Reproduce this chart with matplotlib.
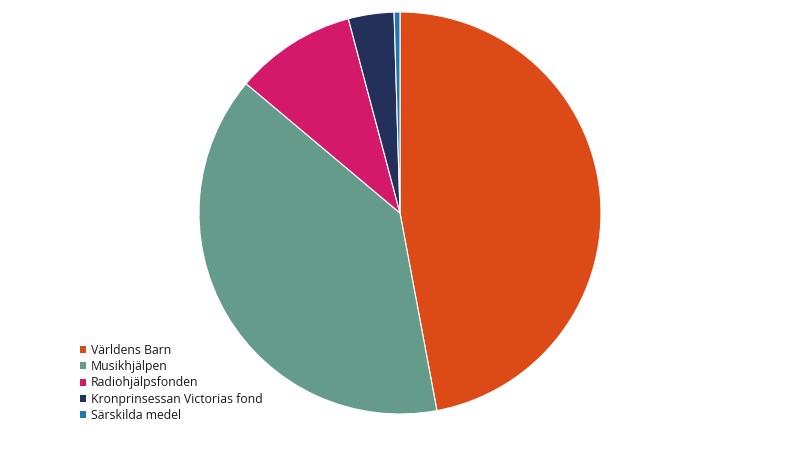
import matplotlib.pyplot as plt
from matplotlib.patches import Patch

plt.rcParams['font.family'] = ['Open Sans', 'DejaVu Sans']

labels = ["Världens Barn", "Musikhjälpen", "Radiohjälpsfonden",
          "Kronprinsessan Victorias fond", "Särskilda medel"]
values = [47.1, 39.1, 9.75, 3.67, 0.47]
colors = ["#DC4A18", "#649B8A", "#D4196A", "#22305A", "#1F78B4"]

fig = plt.figure(figsize=(8, 4.55), dpi=100)
ax = fig.add_axes([198 / 800, 40 / 455, 404 / 800, 404 / 455])
ax.pie(values, colors=colors, startangle=90, counterclock=False, radius=1,
       wedgeprops=dict(edgecolor="white", linewidth=0.8))
ax.set_xlim(-1.005, 1.005)
ax.set_ylim(-1.005, 1.005)
ax.set_aspect("equal")

handles = [Patch(facecolor=c, edgecolor="none") for c in colors]
fig.legend(handles, labels, loc="upper left", bbox_to_anchor=(80 / 800, 1 - 344 / 455),
           frameon=False, fontsize=8.8, handlelength=0.5, handleheight=0.5,
           handletextpad=0.4, labelspacing=0.26, borderpad=0, borderaxespad=0,
           labelcolor="#1a1a1a")

fig.savefig("out.png", dpi=100)
